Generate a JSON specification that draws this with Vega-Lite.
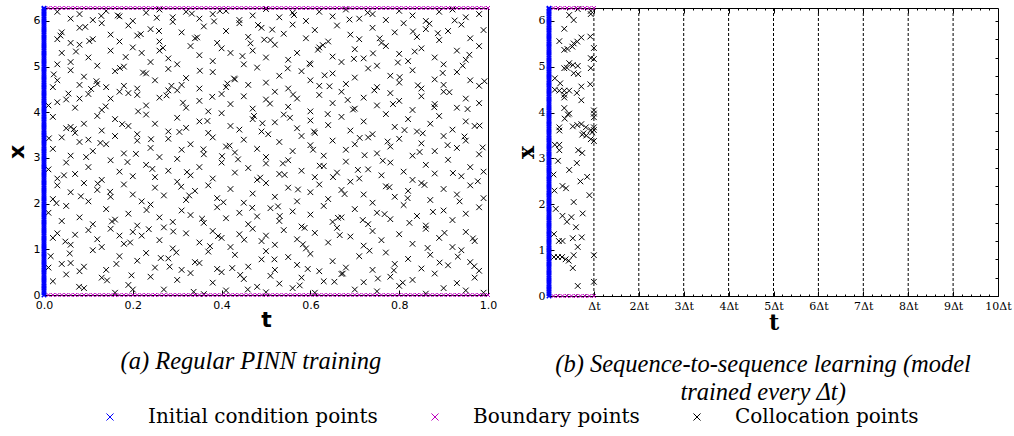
{
"$schema":"https://vega.github.io/schema/vega-lite/v6.json",
"padding":{"left":4,"top":2,"right":0,"bottom":0},
"background":"white",
"datasets":{
"ca":[
{"t":0.02,"x":0.3},{"t":0.05,"x":0.45},{"t":0.09,"x":0.15},{"t":0.13,"x":0.38},{"t":0.16,"x":0.05},{"t":0.19,"x":0.22},{"t":0.2,"x":0.12},{"t":0.24,"x":0.4},{"t":0.27,"x":0.12},{"t":0.3,"x":0.33},{"t":0.33,"x":0.48},{"t":0.36,"x":0.02},{"t":0.38,"x":0.27},{"t":0.41,"x":0.1},{"t":0.45,"x":0.35},{"t":0.48,"x":0.18},{"t":0.5,"x":0.06},{"t":0.51,"x":0.42},{"t":0.53,"x":0.25},{"t":0.56,"x":0.15},{"t":0.58,"x":0.38},{"t":0.61,"x":0.05},{"t":0.63,"x":0.3},{"t":0.67,"x":0.46},{"t":0.7,"x":0.12},{"t":0.72,"x":0.28},{"t":0.75,"x":0.08},{"t":0.78,"x":0.4},{"t":0.8,"x":0.2},{"t":0.83,"x":0.33},{"t":0.86,"x":0.03},{"t":0.88,"x":0.47},{"t":0.9,"x":0.15},{"t":0.93,"x":0.26},{"t":0.95,"x":0.1},{"t":0.97,"x":0.38},{"t":0.99,"x":0.05},
{"t":0.01,"x":0.6},{"t":0.04,"x":0.68},{"t":0.06,"x":0.7},{"t":0.08,"x":0.52},{"t":0.09,"x":0.62},{"t":0.11,"x":0.98},{"t":0.14,"x":0.55},{"t":0.17,"x":0.85},{"t":0.21,"x":0.75},{"t":0.23,"x":0.92},{"t":0.25,"x":0.6},{"t":0.28,"x":0.8},{"t":0.31,"x":0.55},{"t":0.34,"x":0.72},{"t":0.35,"x":0.7},{"t":0.37,"x":0.95},{"t":0.39,"x":0.57},{"t":0.4,"x":0.5},{"t":0.43,"x":0.88},{"t":0.46,"x":0.62},{"t":0.49,"x":0.78},{"t":0.5,"x":0.96},{"t":0.52,"x":0.55},{"t":0.55,"x":0.83},{"t":0.57,"x":0.66},{"t":0.6,"x":0.9},{"t":0.62,"x":0.52},{"t":0.65,"x":0.74},{"t":0.68,"x":0.6},{"t":0.71,"x":0.85},{"t":0.74,"x":0.55},{"t":0.77,"x":0.93},{"t":0.79,"x":0.68},{"t":0.82,"x":0.79},{"t":0.85,"x":0.58},{"t":0.87,"x":0.88},{"t":0.91,"x":0.65},{"t":0.94,"x":0.98},{"t":0.96,"x":0.72},{"t":0.98,"x":0.53},
{"t":0.02,"x":1.25},{"t":0.03,"x":1.35},{"t":0.06,"x":1.1},{"t":0.07,"x":1.32},{"t":0.1,"x":1.42},{"t":0.12,"x":1.22},{"t":0.13,"x":1.05},{"t":0.15,"x":1.45},{"t":0.17,"x":1.3},{"t":0.18,"x":1.12},{"t":0.2,"x":1.38},{"t":0.22,"x":1.3},{"t":0.26,"x":1.2},{"t":0.27,"x":1.48},{"t":0.29,"x":1.02},{"t":0.32,"x":1.35},{"t":0.35,"x":1.15},{"t":0.38,"x":1.4},{"t":0.4,"x":1.25},{"t":0.42,"x":1.05},{"t":0.44,"x":1.33},{"t":0.47,"x":1.45},{"t":0.49,"x":1.18},{"t":0.5,"x":1.3},{"t":0.52,"x":1.1},{"t":0.54,"x":1.42},{"t":0.57,"x":1.22},{"t":0.59,"x":1.02},{"t":0.61,"x":1.36},{"t":0.64,"x":1.15},{"t":0.66,"x":1.47},{"t":0.69,"x":1.28},{"t":0.72,"x":1.08},{"t":0.74,"x":1.4},{"t":0.76,"x":1.2},{"t":0.8,"x":1.33},{"t":0.83,"x":1.12},{"t":0.86,"x":1.45},{"t":0.89,"x":1.25},{"t":0.92,"x":1.05},{"t":0.95,"x":1.38},{"t":0.97,"x":1.18},
{"t":0.01,"x":1.8},{"t":0.04,"x":1.62},{"t":0.05,"x":1.95},{"t":0.08,"x":1.7},{"t":0.11,"x":1.55},{"t":0.14,"x":1.88},{"t":0.16,"x":1.65},{"t":0.19,"x":1.78},{"t":0.21,"x":1.52},{"t":0.24,"x":1.98},{"t":0.26,"x":1.7},{"t":0.29,"x":1.6},{"t":0.31,"x":1.85},{"t":0.33,"x":1.75},{"t":0.36,"x":1.58},{"t":0.39,"x":1.92},{"t":0.41,"x":1.68},{"t":0.44,"x":1.8},{"t":0.46,"x":1.55},{"t":0.48,"x":1.72},{"t":0.51,"x":1.9},{"t":0.53,"x":1.62},{"t":0.56,"x":1.83},{"t":0.58,"x":1.5},{"t":0.6,"x":1.76},{"t":0.63,"x":1.95},{"t":0.65,"x":1.6},{"t":0.67,"x":1.7},{"t":0.7,"x":1.88},{"t":0.73,"x":1.55},{"t":0.75,"x":1.8},{"t":0.78,"x":1.66},{"t":0.81,"x":1.97},{"t":0.84,"x":1.73},{"t":0.86,"x":1.52},{"t":0.9,"x":1.85},{"t":0.92,"x":1.64},{"t":0.95,"x":1.78},{"t":0.98,"x":1.92},
{"t":0.02,"x":2.1},{"t":0.03,"x":2.4},{"t":0.06,"x":2.25},{"t":0.09,"x":2.45},{"t":0.1,"x":2.05},{"t":0.12,"x":2.3},{"t":0.15,"x":2.15},{"t":0.18,"x":2.42},{"t":0.2,"x":2.2},{"t":0.22,"x":2.05},{"t":0.25,"x":2.35},{"t":0.27,"x":2.18},{"t":0.3,"x":2.48},{"t":0.32,"x":2.08},{"t":0.34,"x":2.28},{"t":0.37,"x":2.4},{"t":0.39,"x":2.12},{"t":0.42,"x":2.32},{"t":0.45,"x":2.02},{"t":0.47,"x":2.22},{"t":0.5,"x":2.45},{"t":0.52,"x":2.15},{"t":0.55,"x":2.35},{"t":0.57,"x":2.05},{"t":0.6,"x":2.25},{"t":0.62,"x":2.42},{"t":0.64,"x":2.1},{"t":0.67,"x":2.3},{"t":0.69,"x":2.48},{"t":0.72,"x":2.2},{"t":0.74,"x":2.02},{"t":0.77,"x":2.38},{"t":0.79,"x":2.15},{"t":0.82,"x":2.28},{"t":0.85,"x":2.45},{"t":0.87,"x":2.08},{"t":0.9,"x":2.32},{"t":0.93,"x":2.2},{"t":0.96,"x":2.4},{"t":0.99,"x":2.12},
{"t":0.01,"x":2.75},{"t":0.03,"x":2.55},{"t":0.05,"x":2.9},{"t":0.07,"x":2.65},{"t":0.1,"x":2.8},{"t":0.13,"x":2.52},{"t":0.15,"x":2.95},{"t":0.17,"x":2.7},{"t":0.2,"x":2.6},{"t":0.23,"x":2.85},{"t":0.25,"x":2.58},{"t":0.28,"x":2.72},{"t":0.3,"x":2.98},{"t":0.33,"x":2.62},{"t":0.35,"x":2.8},{"t":0.38,"x":2.55},{"t":0.4,"x":2.9},{"t":0.43,"x":2.68},{"t":0.46,"x":2.78},{"t":0.48,"x":2.52},{"t":0.5,"x":2.88},{"t":0.53,"x":2.65},{"t":0.55,"x":2.95},{"t":0.58,"x":2.72},{"t":0.61,"x":2.58},{"t":0.63,"x":2.82},{"t":0.66,"x":2.68},{"t":0.68,"x":2.92},{"t":0.71,"x":2.55},{"t":0.73,"x":2.75},{"t":0.76,"x":2.62},{"t":0.78,"x":2.9},{"t":0.81,"x":2.7},{"t":0.83,"x":2.52},{"t":0.86,"x":2.85},{"t":0.88,"x":2.66},{"t":0.91,"x":2.96},{"t":0.94,"x":2.6},{"t":0.96,"x":2.8},{"t":0.99,"x":2.7},
{"t":0.02,"x":3.2},{"t":0.04,"x":3.45},{"t":0.06,"x":3.05},{"t":0.08,"x":3.35},{"t":0.1,"x":3.4},{"t":0.11,"x":3.15},{"t":0.14,"x":3.3},{"t":0.16,"x":3.48},{"t":0.18,"x":3.1},{"t":0.21,"x":3.38},{"t":0.24,"x":3.22},{"t":0.26,"x":3.02},{"t":0.28,"x":3.42},{"t":0.31,"x":3.18},{"t":0.33,"x":3.3},{"t":0.36,"x":3.08},{"t":0.38,"x":3.45},{"t":0.41,"x":3.25},{"t":0.43,"x":3.12},{"t":0.45,"x":3.4},{"t":0.48,"x":3.2},{"t":0.5,"x":3.02},{"t":0.53,"x":3.35},{"t":0.56,"x":3.15},{"t":0.58,"x":3.48},{"t":0.6,"x":3.28},{"t":0.63,"x":3.05},{"t":0.65,"x":3.38},{"t":0.68,"x":3.18},{"t":0.7,"x":3.3},{"t":0.73,"x":3.45},{"t":0.75,"x":3.1},{"t":0.78,"x":3.25},{"t":0.8,"x":3.42},{"t":0.83,"x":3.05},{"t":0.85,"x":3.32},{"t":0.88,"x":3.15},{"t":0.9,"x":3.48},{"t":0.93,"x":3.22},{"t":0.95,"x":3.38},{"t":0.98,"x":3.08},
{"t":0.02,"x":3.9},{"t":0.05,"x":3.65},{"t":0.06,"x":3.68},{"t":0.07,"x":3.55},{"t":0.09,"x":3.75},{"t":0.12,"x":3.92},{"t":0.13,"x":3.6},{"t":0.16,"x":3.85},{"t":0.19,"x":3.7},{"t":0.21,"x":3.52},{"t":0.23,"x":3.95},{"t":0.25,"x":3.75},{"t":0.28,"x":3.58},{"t":0.3,"x":3.88},{"t":0.32,"x":3.66},{"t":0.35,"x":3.8},{"t":0.37,"x":3.55},{"t":0.4,"x":3.98},{"t":0.42,"x":3.7},{"t":0.44,"x":3.62},{"t":0.47,"x":3.85},{"t":0.49,"x":3.58},{"t":0.52,"x":3.78},{"t":0.54,"x":3.95},{"t":0.57,"x":3.65},{"t":0.6,"x":3.82},{"t":0.61,"x":3.55},{"t":0.64,"x":3.72},{"t":0.67,"x":3.9},{"t":0.69,"x":3.6},{"t":0.72,"x":3.8},{"t":0.74,"x":3.52},{"t":0.77,"x":3.96},{"t":0.79,"x":3.68},{"t":0.82,"x":3.85},{"t":0.84,"x":3.58},{"t":0.87,"x":3.75},{"t":0.89,"x":3.92},{"t":0.92,"x":3.62},{"t":0.95,"x":3.8},{"t":0.97,"x":3.7},
{"t":0.01,"x":4.15},{"t":0.03,"x":4.22},{"t":0.05,"x":4.28},{"t":0.07,"x":4.1},{"t":0.08,"x":4.3},{"t":0.1,"x":4.4},{"t":0.13,"x":4.05},{"t":0.15,"x":4.3},{"t":0.17,"x":4.45},{"t":0.19,"x":4.42},{"t":0.21,"x":4.38},{"t":0.23,"x":4.15},{"t":0.26,"x":4.32},{"t":0.28,"x":4.48},{"t":0.3,"x":4.48},{"t":0.32,"x":4.1},{"t":0.35,"x":4.25},{"t":0.37,"x":4.02},{"t":0.4,"x":4.4},{"t":0.42,"x":4.18},{"t":0.45,"x":4.35},{"t":0.47,"x":4.08},{"t":0.5,"x":4.28},{"t":0.52,"x":4.45},{"t":0.55,"x":4.12},{"t":0.57,"x":4.3},{"t":0.6,"x":4.02},{"t":0.62,"x":4.38},{"t":0.65,"x":4.2},{"t":0.67,"x":4.45},{"t":0.7,"x":4.08},{"t":0.72,"x":4.32},{"t":0.75,"x":4.15},{"t":0.78,"x":4.42},{"t":0.8,"x":4.25},{"t":0.83,"x":4.05},{"t":0.85,"x":4.35},{"t":0.88,"x":4.18},{"t":0.9,"x":4.45},{"t":0.93,"x":4.1},{"t":0.95,"x":4.3},{"t":0.98,"x":4.2},
{"t":0.02,"x":4.55},{"t":0.03,"x":4.7},{"t":0.06,"x":4.92},{"t":0.08,"x":4.6},{"t":0.09,"x":4.78},{"t":0.12,"x":4.62},{"t":0.14,"x":4.55},{"t":0.16,"x":4.9},{"t":0.18,"x":4.58},{"t":0.21,"x":4.52},{"t":0.23,"x":4.85},{"t":0.25,"x":4.7},{"t":0.28,"x":4.95},{"t":0.31,"x":4.6},{"t":0.32,"x":4.75},{"t":0.35,"x":4.52},{"t":0.38,"x":4.88},{"t":0.41,"x":4.55},{"t":0.43,"x":4.72},{"t":0.46,"x":4.6},{"t":0.48,"x":4.98},{"t":0.5,"x":4.65},{"t":0.53,"x":4.8},{"t":0.55,"x":4.52},{"t":0.58,"x":4.9},{"t":0.6,"x":4.7},{"t":0.62,"x":4.58},{"t":0.65,"x":4.85},{"t":0.68,"x":4.62},{"t":0.7,"x":4.76},{"t":0.73,"x":4.96},{"t":0.75,"x":4.55},{"t":0.78,"x":4.8},{"t":0.8,"x":4.65},{"t":0.83,"x":4.92},{"t":0.85,"x":4.52},{"t":0.88,"x":4.72},{"t":0.9,"x":4.6},{"t":0.93,"x":4.88},{"t":0.96,"x":4.7},{"t":0.98,"x":4.58},
{"t":0.03,"x":5.05},{"t":0.04,"x":5.3},{"t":0.06,"x":5.1},{"t":0.08,"x":5.48},{"t":0.1,"x":5.2},{"t":0.12,"x":5.02},{"t":0.15,"x":5.35},{"t":0.18,"x":5.0},{"t":0.2,"x":5.42},{"t":0.22,"x":5.3},{"t":0.24,"x":5.1},{"t":0.26,"x":5.35},{"t":0.28,"x":5.18},{"t":0.3,"x":5.05},{"t":0.33,"x":5.45},{"t":0.35,"x":5.25},{"t":0.38,"x":5.12},{"t":0.4,"x":5.4},{"t":0.42,"x":5.3},{"t":0.45,"x":5.05},{"t":0.47,"x":5.35},{"t":0.5,"x":5.2},{"t":0.52,"x":5.48},{"t":0.55,"x":5.15},{"t":0.57,"x":5.3},{"t":0.6,"x":5.05},{"t":0.62,"x":5.42},{"t":0.65,"x":5.22},{"t":0.67,"x":5.1},{"t":0.7,"x":5.38},{"t":0.72,"x":5.18},{"t":0.75,"x":5.02},{"t":0.77,"x":5.45},{"t":0.8,"x":5.28},{"t":0.82,"x":5.12},{"t":0.85,"x":5.4},{"t":0.88,"x":5.2},{"t":0.9,"x":5.05},{"t":0.93,"x":5.35},{"t":0.95,"x":5.15},{"t":0.98,"x":5.45},
{"t":0.03,"x":5.6},{"t":0.04,"x":5.75},{"t":0.06,"x":5.52},{"t":0.08,"x":5.85},{"t":0.11,"x":5.6},{"t":0.13,"x":5.95},{"t":0.15,"x":5.7},{"t":0.17,"x":5.55},{"t":0.19,"x":5.9},{"t":0.21,"x":5.68},{"t":0.24,"x":5.82},{"t":0.26,"x":5.55},{"t":0.29,"x":5.98},{"t":0.31,"x":5.75},{"t":0.34,"x":5.62},{"t":0.36,"x":5.88},{"t":0.39,"x":5.52},{"t":0.41,"x":5.78},{"t":0.44,"x":5.95},{"t":0.46,"x":5.65},{"t":0.49,"x":5.85},{"t":0.51,"x":5.58},{"t":0.54,"x":5.72},{"t":0.56,"x":5.92},{"t":0.59,"x":5.62},{"t":0.61,"x":5.8},{"t":0.64,"x":5.55},{"t":0.66,"x":5.9},{"t":0.69,"x":5.7},{"t":0.71,"x":5.6},{"t":0.74,"x":5.85},{"t":0.76,"x":5.52},{"t":0.79,"x":5.75},{"t":0.81,"x":5.95},{"t":0.84,"x":5.65},{"t":0.86,"x":5.82},{"t":0.89,"x":5.58},{"t":0.91,"x":5.78},{"t":0.94,"x":5.92},{"t":0.96,"x":5.62},{"t":0.99,"x":5.8},
{"t":0.03,"x":6.2},{"t":0.06,"x":6.05},{"t":0.08,"x":6.15},{"t":0.11,"x":6.02},{"t":0.14,"x":6.22},{"t":0.17,"x":6.1},{"t":0.2,"x":6.0},{"t":0.23,"x":6.18},{"t":0.26,"x":6.25},{"t":0.29,"x":6.08},{"t":0.32,"x":6.2},{"t":0.35,"x":6.05},{"t":0.38,"x":6.15},{"t":0.41,"x":6.22},{"t":0.44,"x":6.02},{"t":0.47,"x":6.12},{"t":0.5,"x":6.26},{"t":0.53,"x":6.08},{"t":0.56,"x":6.18},{"t":0.59,"x":6.0},{"t":0.62,"x":6.2},{"t":0.65,"x":6.1},{"t":0.68,"x":6.25},{"t":0.71,"x":6.05},{"t":0.74,"x":6.15},{"t":0.77,"x":6.02},{"t":0.8,"x":6.22},{"t":0.83,"x":6.12},{"t":0.86,"x":6.0},{"t":0.89,"x":6.2},{"t":0.92,"x":6.25},{"t":0.95,"x":6.08},{"t":0.98,"x":6.15},
{"t":0.015,"x":0.85},{"t":0.045,"x":2.62},{"t":0.072,"x":5.33},{"t":0.095,"x":3.02},{"t":0.118,"x":4.68},{"t":0.142,"x":0.32},{"t":0.166,"x":6.12},{"t":0.188,"x":2.91},{"t":0.212,"x":4.02},{"t":0.236,"x":1.44},{"t":0.259,"x":5.78},{"t":0.283,"x":0.62},{"t":0.305,"x":3.57},{"t":0.327,"x":2.18},{"t":0.351,"x":4.91},{"t":0.374,"x":1.07},{"t":0.396,"x":6.22},{"t":0.418,"x":3.27},{"t":0.442,"x":0.44},{"t":0.465,"x":5.51},{"t":0.487,"x":2.57},{"t":0.509,"x":4.19},{"t":0.531,"x":1.73},{"t":0.554,"x":3.88},{"t":0.576,"x":0.21},{"t":0.598,"x":5.07},{"t":0.621,"x":2.83},{"t":0.643,"x":4.57},{"t":0.666,"x":1.31},{"t":0.688,"x":6.03},{"t":0.711,"x":3.44},{"t":0.733,"x":0.97},{"t":0.756,"x":5.62},{"t":0.778,"x":2.36},{"t":0.801,"x":4.77},{"t":0.823,"x":1.58},{"t":0.846,"x":3.13},{"t":0.868,"x":5.94},{"t":0.891,"x":0.71},{"t":0.913,"x":4.44},{"t":0.936,"x":2.05},{"t":0.958,"x":5.26},{"t":0.981,"x":3.71},
{"t":0.022,"x":4.83},{"t":0.048,"x":1.17},{"t":0.067,"x":3.63},{"t":0.093,"x":5.87},{"t":0.121,"x":2.44},{"t":0.139,"x":4.13},{"t":0.163,"x":0.68},{"t":0.184,"x":5.21},{"t":0.207,"x":3.09},{"t":0.231,"x":1.86},{"t":0.254,"x":6.07},{"t":0.276,"x":4.37},{"t":0.298,"x":0.93},{"t":0.322,"x":2.69},{"t":0.345,"x":5.64},{"t":0.368,"x":3.81},{"t":0.392,"x":1.29},{"t":0.413,"x":4.63},{"t":0.437,"x":2.97},{"t":0.459,"x":0.12},{"t":0.482,"x":5.91},{"t":0.505,"x":3.52},{"t":0.527,"x":1.94},{"t":0.549,"x":4.96},{"t":0.572,"x":2.31},{"t":0.594,"x":0.57},{"t":0.617,"x":5.37},{"t":0.639,"x":3.96},{"t":0.662,"x":1.69},{"t":0.684,"x":4.27},{"t":0.707,"x":2.74},{"t":0.729,"x":6.18},{"t":0.752,"x":0.36},{"t":0.774,"x":3.36},{"t":0.797,"x":5.09},{"t":0.819,"x":2.12},{"t":0.842,"x":4.59},{"t":0.864,"x":1.03},{"t":0.887,"x":5.73},{"t":0.909,"x":3.28},{"t":0.932,"x":0.84},{"t":0.954,"x":4.07},{"t":0.977,"x":2.49},
{"t":0.011,"x":3.43},{"t":0.037,"x":5.68},{"t":0.058,"x":0.91},{"t":0.083,"x":2.16},{"t":0.106,"x":4.51},{"t":0.129,"x":6.11},{"t":0.153,"x":1.61},{"t":0.176,"x":3.74},{"t":0.197,"x":0.43},{"t":0.223,"x":4.87},{"t":0.244,"x":2.76},{"t":0.268,"x":5.41},{"t":0.291,"x":1.39},{"t":0.313,"x":4.21},{"t":0.337,"x":0.07},{"t":0.359,"x":3.19},{"t":0.383,"x":5.99},{"t":0.404,"x":2.03},{"t":0.428,"x":4.74},{"t":0.451,"x":1.21},{"t":0.473,"x":3.92},{"t":0.496,"x":5.59},{"t":0.519,"x":0.78},{"t":0.542,"x":2.63},{"t":0.563,"x":6.13},{"t":0.587,"x":1.47},{"t":0.608,"x":3.58},{"t":0.632,"x":4.81},{"t":0.654,"x":0.29},{"t":0.677,"x":2.21},{"t":0.698,"x":5.17},{"t":0.722,"x":3.06},{"t":0.744,"x":4.48},{"t":0.767,"x":1.77},{"t":0.788,"x":0.54},{"t":0.812,"x":3.61},{"t":0.835,"x":5.33},{"t":0.857,"x":2.41},{"t":0.879,"x":4.11},{"t":0.902,"x":1.36},{"t":0.925,"x":6.01},{"t":0.947,"x":3.47},{"t":0.969,"x":0.63},{"t":0.992,"x":4.68},
{"t":0.028,"x":2.01},{"t":0.055,"x":4.41},{"t":0.079,"x":0.18},{"t":0.102,"x":5.56},{"t":0.127,"x":3.33},{"t":0.149,"x":2.26},{"t":0.171,"x":4.97},{"t":0.194,"x":1.15},{"t":0.218,"x":5.71},{"t":0.241,"x":3.41},{"t":0.263,"x":0.81},{"t":0.287,"x":4.58},{"t":0.309,"x":2.37},{"t":0.333,"x":6.16},{"t":0.356,"x":1.67},{"t":0.379,"x":4.34},{"t":0.401,"x":3.04},{"t":0.424,"x":0.59},{"t":0.447,"x":5.23},{"t":0.469,"x":1.91},{"t":0.492,"x":3.76},{"t":0.514,"x":5.81},{"t":0.538,"x":2.88},{"t":0.561,"x":4.39},{"t":0.583,"x":1.11},{"t":0.606,"x":3.18},{"t":0.628,"x":5.47},{"t":0.651,"x":2.58},{"t":0.673,"x":0.47},{"t":0.696,"x":4.06},{"t":0.718,"x":1.64},{"t":0.741,"x":5.29},{"t":0.763,"x":2.94},{"t":0.786,"x":4.18},{"t":0.808,"x":0.27},{"t":0.831,"x":5.77},{"t":0.853,"x":3.54},{"t":0.876,"x":1.82},{"t":0.898,"x":4.86},{"t":0.921,"x":2.67},{"t":0.943,"x":5.02},{"t":0.966,"x":1.24},{"t":0.988,"x":3.23}
],
"cb":[
{"t":0.64,"x":6.26},{"t":0.93,"x":6.22},{"t":0.93,"x":6.15},{"t":0.45,"x":6.13},{"t":0.55,"x":6.02},{"t":0.34,"x":5.83},{"t":0.23,"x":5.56},{"t":0.92,"x":5.66},{"t":0.34,"x":5.37},{"t":0.41,"x":5.39},{"t":0.52,"x":5.44},{"t":0.55,"x":5.51},{"t":0.63,"x":5.55},{"t":0.72,"x":5.64},{"t":1.0,"x":5.41},{"t":0.93,"x":5.19},{"t":1.0,"x":5.17},{"t":0.34,"x":4.97},{"t":0.4,"x":4.98},{"t":0.45,"x":5.08},{"t":0.53,"x":5.04},{"t":0.64,"x":5.02},{"t":0.55,"x":4.86},{"t":0.65,"x":4.84},{"t":0.93,"x":4.97},{"t":0.13,"x":4.75},{"t":0.25,"x":4.64},{"t":0.13,"x":4.5},{"t":0.23,"x":4.48},{"t":0.34,"x":4.48},{"t":0.45,"x":4.48},{"t":0.34,"x":4.39},{"t":0.34,"x":4.33},{"t":0.62,"x":4.43},{"t":0.72,"x":4.57},{"t":0.72,"x":4.27},{"t":0.92,"x":4.62},{"t":0.34,"x":4.1},{"t":0.42,"x":3.96},{"t":0.45,"x":3.98},{"t":0.35,"x":3.87},{"t":1.0,"x":4.05},{"t":1.0,"x":3.98},{"t":1.0,"x":3.9},{"t":0.23,"x":3.68},{"t":0.23,"x":3.61},{"t":0.53,"x":3.7},{"t":0.63,"x":3.73},{"t":0.72,"x":3.75},{"t":0.82,"x":3.68},{"t":1.0,"x":3.68},{"t":1.0,"x":3.62},{"t":0.74,"x":3.52},{"t":0.77,"x":3.55},{"t":0.83,"x":3.5},{"t":0.93,"x":3.62},{"t":0.96,"x":3.57},{"t":0.93,"x":3.42},{"t":1.0,"x":3.38},{"t":0.13,"x":3.3},{"t":0.23,"x":3.3},{"t":0.23,"x":3.18},{"t":0.65,"x":3.18},{"t":0.74,"x":3.12},
{"t":0.2,"x":2.95},{"t":0.45,"x":2.75},{"t":0.7,"x":2.5},{"t":0.3,"x":2.4},{"t":0.38,"x":2.35},{"t":0.9,"x":2.2},{"t":0.55,"x":2.05},{"t":0.15,"x":1.9},{"t":0.75,"x":1.8},{"t":0.3,"x":1.75},{"t":0.5,"x":1.72},{"t":0.4,"x":1.62},{"t":0.6,"x":1.5},{"t":0.85,"x":2.6},{"t":0.12,"x":2.3},{"t":0.62,"x":2.9},{"t":0.1,"x":2.65},
{"t":0.11,"x":1.35},{"t":0.22,"x":1.2},{"t":0.3,"x":1.2},{"t":0.53,"x":1.26},{"t":0.73,"x":1.28},{"t":0.64,"x":1.07},{"t":0.11,"x":0.85},{"t":0.2,"x":0.85},{"t":0.29,"x":0.85},{"t":0.37,"x":0.8},{"t":0.44,"x":0.77},{"t":0.55,"x":0.89},{"t":1.0,"x":0.89},{"t":0.53,"x":0.61},{"t":0.64,"x":0.22},{"t":1.0,"x":0.31}
],
"ic":[
{"x":0},{"x":0.05},{"x":0.1},{"x":0.15},{"x":0.2},{"x":0.25},{"x":0.3},{"x":0.35},{"x":0.4},{"x":0.45},{"x":0.5},{"x":0.55},{"x":0.6},{"x":0.65},{"x":0.7},{"x":0.75},{"x":0.8},{"x":0.85},{"x":0.9},{"x":0.95},
{"x":1},{"x":1.05},{"x":1.1},{"x":1.15},{"x":1.2},{"x":1.25},{"x":1.3},{"x":1.35},{"x":1.4},{"x":1.45},{"x":1.5},{"x":1.55},{"x":1.6},{"x":1.65},{"x":1.7},{"x":1.75},{"x":1.8},{"x":1.85},{"x":1.9},{"x":1.95},
{"x":2},{"x":2.05},{"x":2.1},{"x":2.15},{"x":2.2},{"x":2.25},{"x":2.3},{"x":2.35},{"x":2.4},{"x":2.45},{"x":2.5},{"x":2.55},{"x":2.6},{"x":2.65},{"x":2.7},{"x":2.75},{"x":2.8},{"x":2.85},{"x":2.9},{"x":2.95},
{"x":3},{"x":3.05},{"x":3.1},{"x":3.15},{"x":3.2},{"x":3.25},{"x":3.3},{"x":3.35},{"x":3.4},{"x":3.45},{"x":3.5},{"x":3.55},{"x":3.6},{"x":3.65},{"x":3.7},{"x":3.75},{"x":3.8},{"x":3.85},{"x":3.9},{"x":3.95},
{"x":4},{"x":4.05},{"x":4.1},{"x":4.15},{"x":4.2},{"x":4.25},{"x":4.3},{"x":4.35},{"x":4.4},{"x":4.45},{"x":4.5},{"x":4.55},{"x":4.6},{"x":4.65},{"x":4.7},{"x":4.75},{"x":4.8},{"x":4.85},{"x":4.9},{"x":4.95},
{"x":5},{"x":5.05},{"x":5.1},{"x":5.15},{"x":5.2},{"x":5.25},{"x":5.3},{"x":5.35},{"x":5.4},{"x":5.45},{"x":5.5},{"x":5.55},{"x":5.6},{"x":5.65},{"x":5.7},{"x":5.75},{"x":5.8},{"x":5.85},{"x":5.9},{"x":5.95},
{"x":6},{"x":6.05},{"x":6.1},{"x":6.15},{"x":6.2},{"x":6.25},{"x":6.28}
],
"ba":[
{"t":0},{"t":0.01},{"t":0.02},{"t":0.03},{"t":0.04},{"t":0.05},{"t":0.06},{"t":0.07},{"t":0.08},{"t":0.09},{"t":0.1},{"t":0.11},{"t":0.12},{"t":0.13},{"t":0.14},{"t":0.15},{"t":0.16},{"t":0.17},{"t":0.18},{"t":0.19},
{"t":0.2},{"t":0.21},{"t":0.22},{"t":0.23},{"t":0.24},{"t":0.25},{"t":0.26},{"t":0.27},{"t":0.28},{"t":0.29},{"t":0.3},{"t":0.31},{"t":0.32},{"t":0.33},{"t":0.34},{"t":0.35},{"t":0.36},{"t":0.37},{"t":0.38},{"t":0.39},
{"t":0.4},{"t":0.41},{"t":0.42},{"t":0.43},{"t":0.44},{"t":0.45},{"t":0.46},{"t":0.47},{"t":0.48},{"t":0.49},{"t":0.5},{"t":0.51},{"t":0.52},{"t":0.53},{"t":0.54},{"t":0.55},{"t":0.56},{"t":0.57},{"t":0.58},{"t":0.59},
{"t":0.6},{"t":0.61},{"t":0.62},{"t":0.63},{"t":0.64},{"t":0.65},{"t":0.66},{"t":0.67},{"t":0.68},{"t":0.69},{"t":0.7},{"t":0.71},{"t":0.72},{"t":0.73},{"t":0.74},{"t":0.75},{"t":0.76},{"t":0.77},{"t":0.78},{"t":0.79},
{"t":0.8},{"t":0.81},{"t":0.82},{"t":0.83},{"t":0.84},{"t":0.85},{"t":0.86},{"t":0.87},{"t":0.88},{"t":0.89},{"t":0.9},{"t":0.91},{"t":0.92},{"t":0.93},{"t":0.94},{"t":0.95},{"t":0.96},{"t":0.97},{"t":0.98},{"t":0.99},{"t":1}
],
"bb":[
{"t":0},{"t":0.1},{"t":0.2},{"t":0.3},{"t":0.4},{"t":0.5},{"t":0.6},{"t":0.7},{"t":0.8},{"t":0.9},{"t":1}
],
"dl":[
{"t":1},{"t":2},{"t":3},{"t":4},{"t":5},{"t":6},{"t":7},{"t":8},{"t":9}
]
},
"hconcat":[
{
"width":444,"height":287,
"title":{"text":"(a) Regular PINN training","orient":"bottom","offset":20,"frame":"bounds"},
"layer":[
{"data":{"name":"ca"},
 "mark":{"type":"point","shape":"M-1,-1L1,1M-1,1L1,-1","filled":false,"size":32,"strokeWidth":1,"opacity":1},
 "encoding":{
  "x":{"field":"t","type":"quantitative","scale":{"domain":[0,1],"nice":false},
       "axis":{"values":[0,0.2,0.4,0.6,0.8,1],"format":".1f","title":"t","labelFont":"DejaVu Sans","titleFont":"DejaVu Sans"}},
  "y":{"field":"x","type":"quantitative","scale":{"domain":[0,6.2832],"nice":false,"zero":false},
       "axis":{"values":[0,1,2,3,4,5,6],"format":"d","title":"x","labelFont":"DejaVu Sans","titleFont":"DejaVu Sans","titlePadding":5}},
  "color":{"datum":"Collocation points","type":"nominal"}
 }},
{"data":{"name":"ba"},
 "mark":{"type":"point","shape":"M-1,-1L1,1M-1,1L1,-1","filled":false,"size":16,"strokeWidth":1,"opacity":1},
 "encoding":{"x":{"field":"t","type":"quantitative"},"y":{"datum":0,"type":"quantitative"},"color":{"datum":"Boundary points","type":"nominal"}}},
{"data":{"name":"ba"},
 "mark":{"type":"point","shape":"M-1,-1L1,1M-1,1L1,-1","filled":false,"size":16,"strokeWidth":1,"opacity":1},
 "encoding":{"x":{"field":"t","type":"quantitative"},"y":{"datum":6.2832,"type":"quantitative"},"color":{"datum":"Boundary points","type":"nominal"}}},
{"data":{"name":"ic"},
 "mark":{"type":"point","shape":"M-1,-1L1,1M-1,1L1,-1","filled":false,"size":20,"strokeWidth":1.5,"opacity":1},
 "encoding":{"x":{"datum":0,"type":"quantitative"},"y":{"field":"x","type":"quantitative"},"color":{"datum":"Initial condition points","type":"nominal"}}}
]
},
{
"width":449,"height":288,
"title":{"text":["(b) Sequence-to-sequence learning (model","trained every Δt)"],"orient":"bottom","offset":20,"frame":"bounds"},
"resolve":{"axis":{"x":"independent","y":"independent"}},
"layer":[
{"data":{"name":"dl"},
 "mark":{"type":"rule","strokeDash":[3,2],"color":"black","strokeWidth":1},
 "encoding":{
  "x":{"field":"t","type":"quantitative","scale":{"domain":[0,10],"nice":false},
       "axis":{"orient":"bottom","values":[0.2,0.4,0.6,0.8,1,1.2,1.4,1.6,1.8,2,2.2,2.4,2.6,2.8,3,3.2,3.4,3.6,3.8,4,4.2,4.4,4.6,4.8,5,5.2,5.4,5.6,5.8,6,6.2,6.4,6.6,6.8,7,7.2,7.4,7.6,7.8,8,8.2,8.4,8.6,8.8,9,9.2,9.4,9.6,9.8,10],
         "labelExpr":"datum.value % 1 !== 0 ? '' : (datum.value === 1 ? 'Δt' : datum.value + 'Δt')",
         "tickSize":{"condition":{"test":"datum.value % 1 === 0","value":-5},"value":-2},
         "title":"t","labelFont":"DejaVu Serif","titleFont":"DejaVu Serif","titlePadding":-2}}
 }},
{"data":{"name":"cb"},
 "mark":{"type":"point","shape":"M-1,-1L1,1M-1,1L1,-1","filled":false,"size":32,"strokeWidth":1,"opacity":1},
 "encoding":{
  "x":{"field":"t","type":"quantitative",
       "axis":{"orient":"top","values":[0.2,0.4,0.6,0.8,1,1.2,1.4,1.6,1.8,2,2.2,2.4,2.6,2.8,3,3.2,3.4,3.6,3.8,4,4.2,4.4,4.6,4.8,5,5.2,5.4,5.6,5.8,6,6.2,6.4,6.6,6.8,7,7.2,7.4,7.6,7.8,8,8.2,8.4,8.6,8.8,9,9.2,9.4,9.6,9.8],
         "labels":false,"title":null,"domain":false,
         "tickSize":{"condition":{"test":"datum.value % 1 === 0","value":-5},"value":-2}}},
  "y":{"field":"x","type":"quantitative","scale":{"domain":[0,6.2832],"nice":false,"zero":false},
       "axis":{"orient":"left","values":[0,1,2,3,4,5,6],"format":"d","title":"x","labelFont":"DejaVu Serif","titleFont":"DejaVu Serif","titlePadding":0}},
  "color":{"datum":"Collocation points","type":"nominal"}
 }},
{"data":{"name":"bb"},
 "mark":{"type":"point","shape":"M-1,-1L1,1M-1,1L1,-1","filled":false,"size":16,"strokeWidth":1,"opacity":1},
 "encoding":{"x":{"field":"t","type":"quantitative","axis":null},"y":{"datum":0,"type":"quantitative","axis":null},"color":{"datum":"Boundary points","type":"nominal"}}},
{"data":{"name":"bb"},
 "mark":{"type":"point","shape":"M-1,-1L1,1M-1,1L1,-1","filled":false,"size":16,"strokeWidth":1,"opacity":1},
 "encoding":{"x":{"field":"t","type":"quantitative","axis":null},"y":{"datum":6.2832,"type":"quantitative","axis":null},"color":{"datum":"Boundary points","type":"nominal"}}},
{"data":{"name":"ic"},
 "mark":{"type":"point","shape":"M-1,-1L1,1M-1,1L1,-1","filled":false,"size":20,"strokeWidth":1.5,"opacity":1},
 "encoding":{"x":{"datum":0,"type":"quantitative","axis":null},
  "y":{"field":"x","type":"quantitative",
       "axis":{"orient":"right","values":[0.4,0.8,1.2,1.6,2,2.4,2.8,3.2,3.6,4,4.4,4.8,5.2,5.6,6],"labels":false,"title":null,"domain":false,"tickSize":-3}},
  "color":{"datum":"Initial condition points","type":"nominal",
   "scale":{"domain":["Initial condition points","Boundary points","Collocation points"],"range":["#0000ff","#bf00bf","#000000"]},
   "legend":{"orient":"none","legendX":56,"legendY":399,"direction":"horizontal","title":null,
     "symbolType":"M-1,-1L1,1M-1,1L1,-1","symbolSize":50,"symbolStrokeWidth":1,
     "labelFont":"DejaVu Serif","labelFontSize":20,"labelColor":"black","labelOffset":28,"columnPadding":47,"labelLimit":400}}}}
]
}
],
"spacing":16,
"resolve":{"scale":{"color":"shared"},"legend":{"color":"shared"}},
"config":{
 "view":{"stroke":"black","strokeWidth":1},
 "axis":{"grid":false,"domainColor":"black","tickColor":"black","labelColor":"black","titleColor":"black",
   "tickSize":-5,"labelPadding":9,"labelFontSize":11,"titleFontSize":22,"titleFontWeight":"bold",
   "labelFlush":false,"labelOverlap":false},
 "axisX":{"titlePadding":-1},
 "title":{"font":"Liberation Serif","fontSize":24.5,"fontStyle":"italic","fontWeight":"normal","color":"black","lineHeight":28,"anchor":"middle"}
}
}
